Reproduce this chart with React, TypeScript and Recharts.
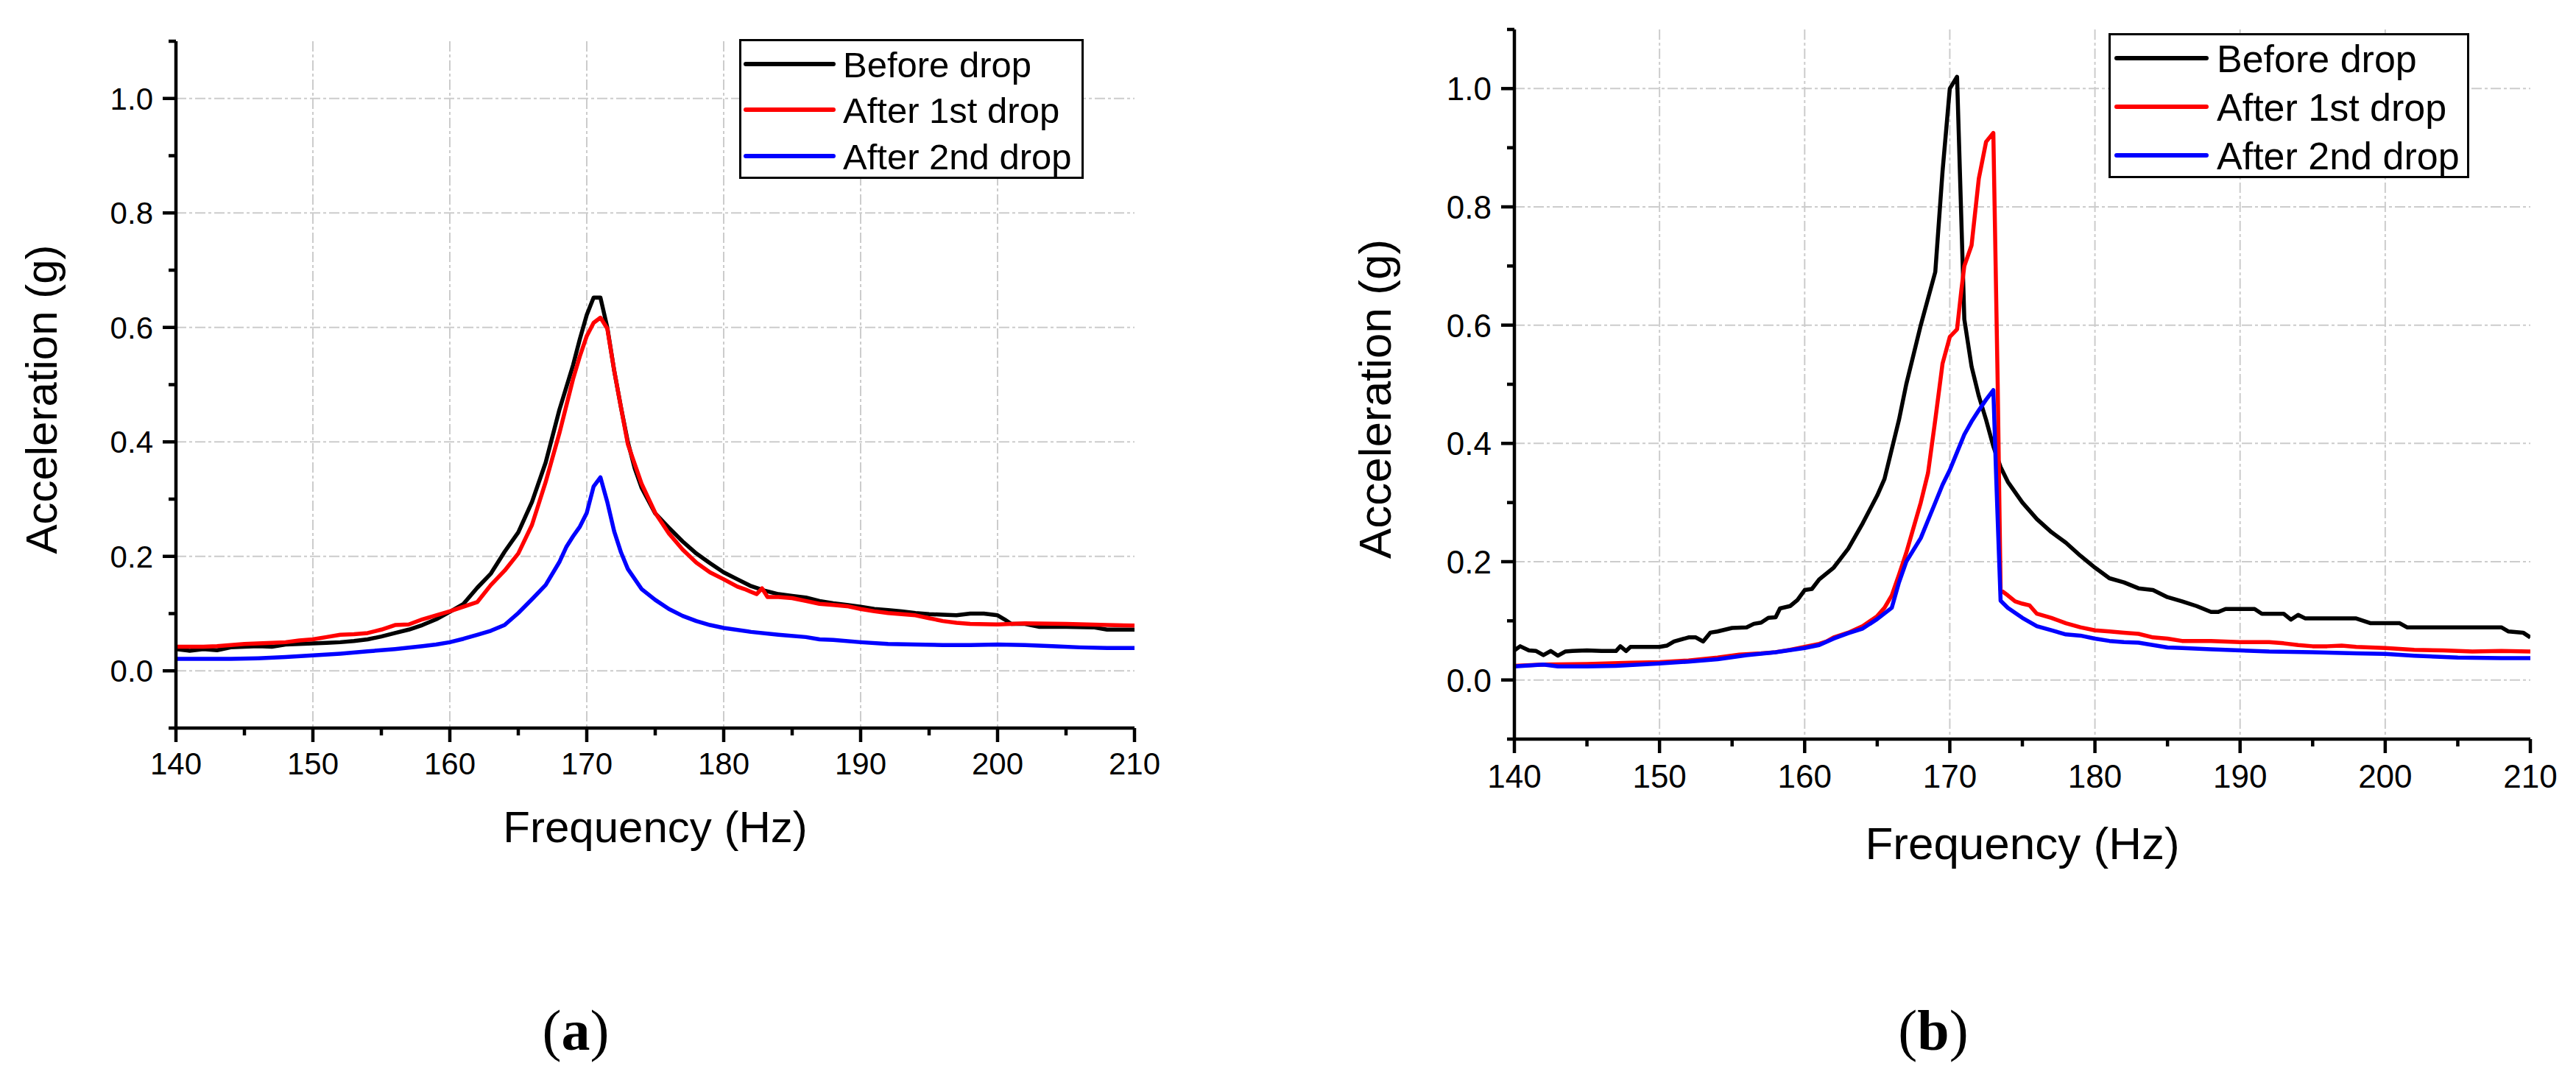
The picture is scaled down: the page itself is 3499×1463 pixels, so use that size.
import React from 'react';
import { LineChart, Line, XAxis, YAxis, CartesianGrid, Legend, Label } from 'recharts';

// ---------- data ----------
const seriesNames = ['Before drop', 'After 1st drop', 'After 2nd drop'];
const seriesColors = ['#000000', '#ff0000', '#0000ff'];

const xTicks = [140, 145, 150, 155, 160, 165, 170, 175, 180, 185, 190, 195, 200, 205, 210];
const yTicks = [-0.1, 0, 0.1, 0.2, 0.3, 0.4, 0.5, 0.6, 0.7, 0.8, 0.9, 1.0, 1.1];
const gridX = [150, 160, 170, 180, 190, 200];
const gridY = [0, 0.2, 0.4, 0.6, 0.8, 1.0];

// panel (a)
const aBeforeHz = [140, 141, 142, 143, 144, 145, 146, 147, 148, 149, 150, 151, 152, 153, 154, 155, 156, 157, 158, 159, 160, 161, 162, 163, 164, 165, 166, 167, 168, 169, 169.5, 170, 170.5, 171, 171.5, 172, 172.5, 173, 173.5, 174, 175, 176, 177, 178, 179, 180, 181, 182, 183, 184, 185, 186, 187, 188, 189, 190, 191, 192, 193, 194, 195, 196, 197, 198, 199, 200, 200.5, 201, 202, 203, 205, 207, 208, 210];
const aBeforeG = [0.038, 0.035, 0.038, 0.036, 0.041, 0.042, 0.043, 0.042, 0.046, 0.047, 0.048, 0.049, 0.05, 0.052, 0.055, 0.06, 0.066, 0.072, 0.08, 0.09, 0.103, 0.117, 0.145, 0.17, 0.208, 0.242, 0.295, 0.364, 0.456, 0.534, 0.58, 0.622, 0.652, 0.652, 0.6, 0.525, 0.46, 0.4, 0.354, 0.32, 0.275, 0.25, 0.226, 0.205, 0.188, 0.172, 0.16, 0.148, 0.14, 0.134, 0.131, 0.128, 0.122, 0.118, 0.115, 0.112, 0.108, 0.106, 0.104, 0.101, 0.099, 0.098, 0.097, 0.1, 0.1, 0.097, 0.09, 0.082, 0.082, 0.077, 0.077, 0.076, 0.072, 0.072];

const aFirstHz = [140, 141, 142, 143, 144, 145, 146, 147, 148, 149, 150, 151, 152, 153, 154, 155, 156, 157, 158, 159, 160, 161, 162, 163, 164, 165, 166, 167, 168, 169, 169.5, 170, 170.5, 171, 171.5, 172, 172.5, 173, 174, 175, 176, 177, 178, 179, 180, 181, 181.5, 182, 182.4, 182.8, 183.2, 184, 185, 186, 187, 188, 189, 190, 191, 192, 193, 194, 195, 196, 197, 198, 200, 202, 205, 208, 210];
const aFirstG = [0.042, 0.042, 0.042, 0.043, 0.045, 0.047, 0.048, 0.049, 0.05, 0.053, 0.055, 0.059, 0.063, 0.064, 0.066, 0.072, 0.08, 0.081, 0.09, 0.097, 0.104, 0.112, 0.12, 0.15, 0.175, 0.205, 0.255, 0.33, 0.415, 0.51, 0.55, 0.585, 0.608, 0.617, 0.598, 0.525, 0.46, 0.396, 0.327, 0.276, 0.24, 0.212, 0.189, 0.172, 0.16, 0.147, 0.143, 0.138, 0.134, 0.144, 0.129, 0.129, 0.127, 0.122, 0.117, 0.115, 0.113, 0.108, 0.104, 0.101, 0.099, 0.097, 0.092, 0.087, 0.084, 0.082, 0.081, 0.083, 0.082, 0.08, 0.079];

const aSecondHz = [140, 142, 144, 146, 148, 150, 152, 154, 156, 158, 159, 160, 161, 162, 163, 164, 165, 166, 167, 168, 168.5, 169, 169.5, 170, 170.5, 171, 171.5, 172, 172.5, 173, 174, 175, 176, 177, 178, 179, 180, 182, 184, 186, 187, 188, 190, 192, 194, 196, 198, 200, 202, 204, 206, 208, 210];
const aSecondG = [0.021, 0.021, 0.021, 0.022, 0.024, 0.027, 0.03, 0.034, 0.038, 0.043, 0.046, 0.05, 0.056, 0.063, 0.07, 0.08, 0.101, 0.125, 0.15, 0.19, 0.216, 0.235, 0.252, 0.276, 0.322, 0.338, 0.295, 0.244, 0.207, 0.178, 0.143, 0.124, 0.108, 0.096, 0.087, 0.08, 0.075, 0.068, 0.063, 0.059, 0.055, 0.054, 0.05, 0.047, 0.046, 0.045, 0.045, 0.046, 0.045, 0.043, 0.041, 0.04, 0.04];

// panel (b)
const bBeforeHz = [140, 140.4, 141, 141.5, 142, 142.5, 143, 143.5, 144, 145, 146, 147, 147.3, 147.7, 148, 149, 150, 150.5, 151, 152, 152.5, 153, 153.5, 154, 155, 156, 156.5, 157, 157.5, 158, 158.3, 159, 159.5, 160, 160.5, 161, 162, 163, 164, 165, 165.5, 166, 166.5, 167, 167.5, 168, 168.5, 169, 169.5, 170, 170.5, 171, 171.5, 172, 172.5, 173, 173.5, 174, 175, 176, 177, 178, 179, 180, 181, 182, 183, 184, 185, 186, 187, 188, 188.5, 189, 190, 191, 191.5, 193, 193.5, 194, 194.5, 198, 199, 201, 201.5, 208, 208.5, 209.5, 210];
const bBeforeG = [0.05, 0.057, 0.05, 0.049, 0.042, 0.049, 0.041, 0.048, 0.049, 0.05, 0.049, 0.049, 0.057, 0.049, 0.056, 0.056, 0.056, 0.058, 0.065, 0.072, 0.072, 0.065, 0.08, 0.082, 0.088, 0.089, 0.095, 0.097, 0.105, 0.106, 0.121, 0.125, 0.135, 0.152, 0.154, 0.17, 0.19, 0.222, 0.265, 0.312, 0.34, 0.39, 0.44, 0.5, 0.55, 0.6, 0.645, 0.69, 0.86, 1.0, 1.02, 0.61, 0.53, 0.48, 0.44, 0.395, 0.36, 0.335, 0.3, 0.272, 0.25, 0.232, 0.21, 0.19, 0.172, 0.165, 0.155, 0.152, 0.14, 0.133, 0.125, 0.115, 0.115, 0.12, 0.12, 0.12, 0.112, 0.112, 0.102, 0.11, 0.104, 0.104, 0.096, 0.096, 0.089, 0.089, 0.082, 0.08, 0.072];

const bFirstHz = [140, 142, 145, 148, 150, 152, 154, 155.5, 157, 158, 159, 160, 161, 161.5, 162, 163, 164, 165, 165.5, 166, 166.5, 167, 168, 168.5, 169, 169.5, 170, 170.5, 170.8, 171, 171.5, 172, 172.5, 173, 173.3, 173.5, 174, 174.5, 175, 175.5, 176, 177, 178, 179, 180, 181, 182, 183, 184, 185, 186, 188, 190, 192, 193, 194, 195, 196, 197, 198, 200, 202, 204, 206, 208, 210];
const bFirstG = [0.024, 0.026, 0.027, 0.029, 0.03, 0.033, 0.038, 0.043, 0.045, 0.047, 0.051, 0.056, 0.061, 0.065, 0.072, 0.08, 0.091, 0.108, 0.122, 0.143, 0.178, 0.215, 0.3, 0.35, 0.44, 0.535, 0.58, 0.593, 0.66, 0.7, 0.735, 0.848, 0.91, 0.925, 0.5, 0.152, 0.143, 0.133, 0.129, 0.126, 0.112, 0.105, 0.096, 0.089, 0.084, 0.082, 0.08, 0.078, 0.072, 0.07, 0.066, 0.066, 0.064, 0.064, 0.062, 0.059, 0.057, 0.057, 0.058, 0.056, 0.054, 0.051, 0.05, 0.048, 0.049, 0.048];

const bSecondHz = [140, 142, 143, 145, 147, 150, 152, 154, 156, 158, 160, 161, 162, 163, 164, 165, 166, 166.5, 167, 168, 168.5, 169, 169.5, 170, 170.5, 171, 171.5, 172, 172.5, 173, 173.2, 173.5, 174, 175, 176, 177, 178, 179, 180, 181, 182, 183, 184, 185, 186, 188, 190, 192, 195, 198, 200, 202, 205, 208, 210];
const bSecondG = [0.023, 0.026, 0.023, 0.023, 0.024, 0.028, 0.031, 0.035, 0.042, 0.047, 0.054, 0.059, 0.07, 0.079, 0.087, 0.103, 0.122, 0.165, 0.2, 0.24, 0.27, 0.3, 0.33, 0.355, 0.385, 0.415, 0.437, 0.456, 0.474, 0.49, 0.34, 0.134, 0.122, 0.105, 0.091, 0.084, 0.077, 0.075, 0.07, 0.066, 0.064, 0.063, 0.059, 0.055, 0.054, 0.052, 0.05, 0.048, 0.047, 0.045, 0.044, 0.041, 0.038, 0.037, 0.037];

const zip = (hz: number[], g: number[]) => hz.map((f, i) => ({ f, g: g[i] }));

const panelA = [zip(aBeforeHz, aBeforeG), zip(aFirstHz, aFirstG), zip(aSecondHz, aSecondG)];
const panelB = [zip(bBeforeHz, bBeforeG), zip(bFirstHz, bFirstG), zip(bSecondHz, bSecondG)];

const FONT = '"Liberation Sans", Arial, sans-serif';

interface PanelProps {
  series: { f: number; g: number }[][];
  width: number;
  height: number;
  margin: { top: number; right: number; bottom: number; left: number };
  tickFont: number;
  xLabelGap: number;
  titleFont: number;
  xTitleGap: number;
  yTitleX: number;
  legend: { left: number; top: number; w: number; h: number; rows: number[]; x1: number; x2: number; tx: number; font: number };
}

const Panel: React.FC<PanelProps> = ({ series, width, height, margin, tickFont, xLabelGap, titleFont, xTitleGap, yTitleX, legend }) => {
  const renderXTick = (p: any) => {
    const v = p.payload.value;
    const major = v % 10 === 0;
    return (
      <g>
        <line x1={p.x} x2={p.x} y1={p.y} y2={p.y + (major ? 19 : 10)} stroke="#000" strokeWidth={4.5} />
        {major && (
          <text x={p.x} y={p.y + xLabelGap} textAnchor="middle" fontSize={tickFont} fontFamily={FONT} fill="#000">
            {v}
          </text>
        )}
      </g>
    );
  };

  const renderYTick = (p: any) => {
    const v = p.payload.value;
    const k = Math.round(v * 10);
    const major = k >= 0 && k <= 10 && k % 2 === 0;
    return (
      <g>
        <line x1={p.x - (major ? 18 : 10)} x2={p.x} y1={p.y} y2={p.y} stroke="#000" strokeWidth={4.5} />
        {major && (
          <text x={p.x - 31} y={p.y + tickFont * 0.36} textAnchor="end" fontSize={tickFont} fontFamily={FONT} fill="#000">
            {v.toFixed(1)}
          </text>
        )}
      </g>
    );
  };

  const renderLegend = () => (
    <svg width={legend.w} height={legend.h} style={{ display: 'block' }}>
      <rect x={1.5} y={1.5} width={legend.w - 3} height={legend.h - 3} fill="#fff" stroke="#000" strokeWidth={3} />
      {seriesNames.map((name, i) => (
        <g key={name}>
          <line x1={legend.x1} x2={legend.x2} y1={legend.rows[i]} y2={legend.rows[i]} stroke={seriesColors[i]} strokeWidth={6} strokeLinecap="round" />
          <text x={legend.tx} y={legend.rows[i] + legend.font * 0.36} fontSize={legend.font} fontFamily={FONT} fill="#000">
            {name}
          </text>
        </g>
      ))}
    </svg>
  );

  return (
    <LineChart width={width} height={height} margin={margin}>
      <CartesianGrid
        horizontalValues={gridY}
        verticalValues={gridX}
        stroke="#cccccc"
        strokeWidth={2}
        strokeDasharray="14 4 4 4"
      />
      <XAxis
        type="number"
        dataKey="f"
        domain={[140, 210]}
        ticks={xTicks}
        allowDataOverflow
        height={100}
        axisLine={{ stroke: '#000', strokeWidth: 4.5 }}
        tickLine={false}
        tickSize={0}
        tickMargin={0}
        tick={renderXTick}
        interval={0}
      >
        <Label
          content={(p: any) => {
            const vb = p.viewBox;
            return (
              <text x={vb.x + vb.width / 2} y={vb.y + xTitleGap} textAnchor="middle" fontSize={titleFont} fontFamily={FONT} fill="#000">
                Frequency (Hz)
              </text>
            );
          }}
        />
      </XAxis>
      <YAxis
        type="number"
        domain={[-0.1, 1.1]}
        ticks={yTicks}
        allowDataOverflow
        width={100}
        axisLine={{ stroke: '#000', strokeWidth: 4.5 }}
        tickLine={false}
        tickSize={0}
        tickMargin={0}
        tick={renderYTick}
        interval={0}
      >
        <Label
          content={(p: any) => {
            const vb = p.viewBox;
            const cx = vb.x + vb.width + yTitleX;
            const cy = vb.y + vb.height / 2 + 20;
            return (
              <text
                x={cx}
                y={cy}
                transform={`rotate(-90, ${cx}, ${cy})`}
                textAnchor="middle"
                dominantBaseline="central"
                fontSize={titleFont}
                fontFamily={FONT}
                fill="#000"
              >
                Acceleration (g)
              </text>
            );
          }}
        />
      </YAxis>
      <Legend
        layout="vertical"
        align="center"
        verticalAlign="middle"
        content={renderLegend}
        wrapperStyle={{ left: legend.left, top: legend.top, width: legend.w, height: legend.h, right: 'auto', bottom: 'auto' }}
      />
      {series.map((d, i) => (
        <Line
          key={seriesNames[i]}
          data={d}
          dataKey="g"
          name={seriesNames[i]}
          type="linear"
          stroke={seriesColors[i]}
          strokeWidth={5.5}
          strokeLinejoin="round"
          dot={false}
          activeDot={false}
          isAnimationActive={false}
        />
      ))}
    </LineChart>
  );
};

const caption = (letter: string, cx: number): React.ReactNode => (
  <div
    style={{
      position: 'absolute',
      left: cx - 100,
      top: 1400 - 50,
      width: 200,
      height: 100,
      lineHeight: '100px',
      textAlign: 'center',
      fontFamily: '"Liberation Serif", "Times New Roman", serif',
      fontSize: 78,
      color: '#000',
    }}
  >
    (<b>{letter}</b>)
  </div>
);

export default function App() {
  return (
    <div style={{ position: 'absolute', left: 0, top: 0, width: 3499, height: 1463, background: '#fff', overflow: 'hidden' }}>
      <div style={{ position: 'absolute', left: 0, top: 0 }}>
        <Panel
          series={panelA}
          width={1750}
          height={1463}
          margin={{ top: 56, right: 209, bottom: 374, left: 139 }}
          tickFont={42}
          xLabelGap={63}
          titleFont={60}
          xTitleGap={155}
          yTitleX={-183}
          legend={{ left: 1004, top: 53, w: 468, h: 190, rows: [34, 96, 159], x1: 9, x2: 128, tx: 141, font: 49 }}
        />
      </div>
      <div style={{ position: 'absolute', left: 1750, top: 0 }}>
        <Panel
          series={panelB}
          width={1749}
          height={1463}
          margin={{ top: 40, right: 62, bottom: 359, left: 207 }}
          tickFont={44}
          xLabelGap={66}
          titleFont={62}
          xTitleGap={163}
          yTitleX={-190}
          legend={{ left: 1114, top: 45, w: 490, h: 197, rows: [34, 100, 166], x1: 11, x2: 133, tx: 147, font: 52 }}
        />
      </div>
      {caption('a', 782)}
      {caption('b', 2626)}
    </div>
  );
}
